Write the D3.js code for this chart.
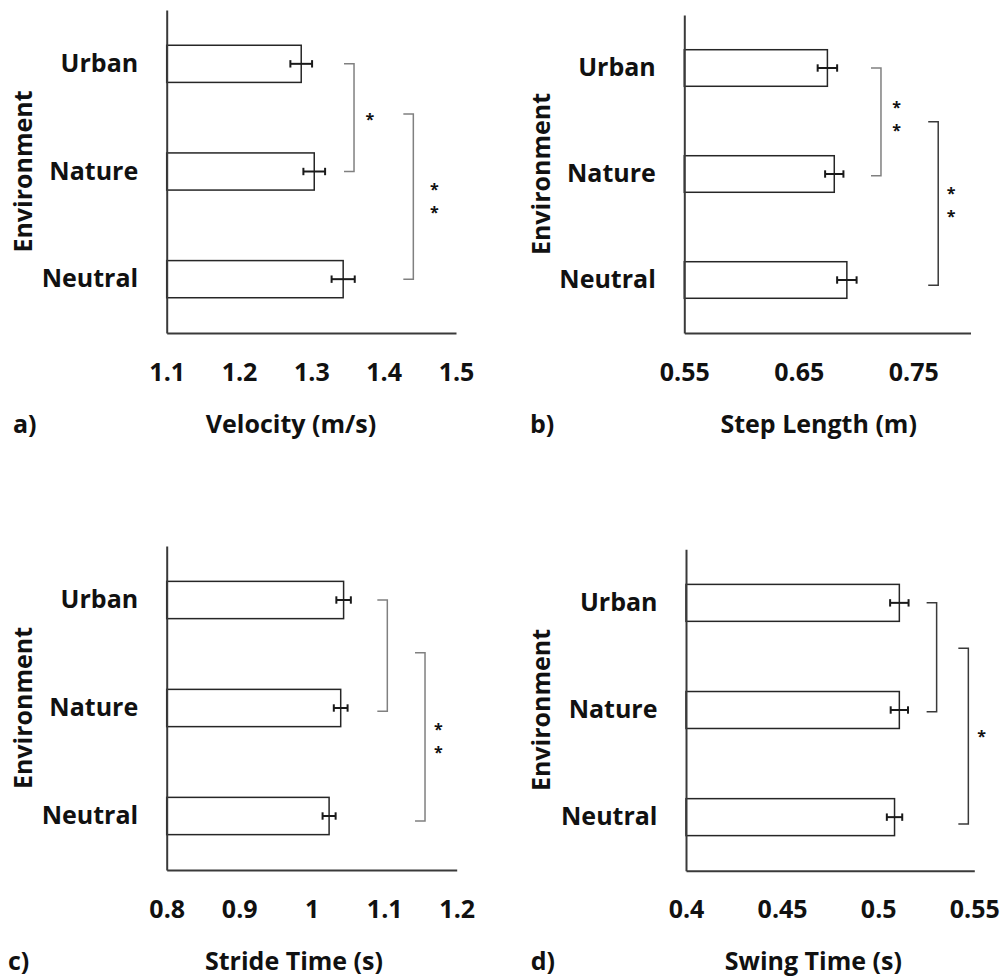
<!DOCTYPE html>
<html>
<head>
<meta charset="utf-8">
<script src="https://cdn.jsdelivr.net/npm/d3@7"></script>
<style>
  body { margin: 0; background: #fff; }
  text { font-family: "Open Sans", sans-serif; font-weight: bold; fill: #111; }
</style>
</head>
<body>
<div id="chart"></div>
<script>
// categories shared by all four panels
const categories = ["Urban", "Nature", "Neutral"];

// a) velocity
const velocityMean = [1.286, 1.304, 1.344];
const velocityErr = [0.015, 0.015, 0.016];
const velocityTicks = [1.1, 1.2, 1.3, 1.4, 1.5];

// b) step length
const stepMean = [0.675, 0.681, 0.692];
const stepErr = [0.0085, 0.008, 0.0085];
const stepTicks = [0.55, 0.65, 0.75];

// c) stride time
const strideMean = [1.044, 1.040, 1.024];
const strideErr = [0.010, 0.0095, 0.009];
const strideTicks = [0.8, 0.9, 1, 1.1, 1.2];

// d) swing time
const swingMean = [0.511, 0.511, 0.5085];
const swingErr = [0.0048, 0.0045, 0.004];
const swingTicks = [0.4, 0.45, 0.5, 0.55];

// significance brackets: x in axis units, y0/y1/starY as category index
const velocitySig = [
    {x: 1.359, y0: 0, y1: 1, starX: 1.381, starY: 0.485, stars: 1, tone: "gray"},
    {x: 1.441, y0: 0.466, y1: 2, starX: 1.470, starY: 1.24, stars: 2, tone: "gray"}
];
const stepSig = [
    {x: 0.7218, y0: 0, y1: 1.016, starX: 0.7355, starY: 0.448, stars: 2, tone: "gray"},
    {x: 0.7718, y0: 0.507, y1: 2.05, starX: 0.7831, starY: 1.264, stars: 2, tone: "dark"}
];
const strideSig = [
    {x: 1.1043, y0: 0, y1: 1.03, stars: 0, tone: "gray"},
    {x: 1.1563, y0: 0.488, y1: 2.046, starX: 1.1746, starY: 1.278, stars: 2, tone: "gray"}
];
const swingSig = [
    {x: 0.5304, y0: 0, y1: 1.016, stars: 0, tone: "dark"},
    {x: 0.5469, y0: 0.424, y1: 2.064, starX: 0.5538, starY: 1.217, stars: 1, tone: "dark"}
];

const panels = [
    {letter: "a)", title: "Velocity (m/s)", mean: velocityMean, err: velocityErr, ticks: velocityTicks,
     domain: [1.1, 1.5], sig: velocitySig,
     left: 166.7, right: 456, top: 10, bottom: 333, letterX: 13, envX: 23, titleX: 291},
    {letter: "b)", title: "Step Length (m)", mean: stepMean, err: stepErr, ticks: stepTicks,
     domain: [0.55, 0.8], sig: stepSig,
     left: 684.3, right: 970.5, top: 15, bottom: 333, letterX: 530, envX: 541.7, titleX: 818.7},
    {letter: "c)", title: "Stride Time (s)", mean: strideMean, err: strideErr, ticks: strideTicks,
     domain: [0.8, 1.2], sig: strideSig,
     left: 166.7, right: 456.7, top: 546, bottom: 870, letterX: 8, envX: 23, titleX: 294},
    {letter: "d)", title: "Swing Time (s)", mean: swingMean, err: swingErr, ticks: swingTicks,
     domain: [0.4, 0.55], sig: swingSig,
     left: 686, right: 974.3, top: 549.3, bottom: 870.7, letterX: 530.7, envX: 541.7, titleX: 813.3}
];

const width = 1005, height = 979;
const toneColor = {gray: "#808080", dark: "#3a3a3a"};

const svg = d3.select("#chart")
    .append("svg")
    .attr("width", width)
    .attr("height", height);

function drawPanel(p) {
    const g = svg.append("g");

    const x = d3.scaleLinear()
        .domain(p.domain)
        .range([p.left, p.right]);

    const y = d3.scaleBand()
        .domain(categories)
        .range([p.top, p.bottom])
        .paddingInner(0.655)
        .paddingOuter(0.3275);

    // centre of category i (fractional allowed)
    const yIdx = i => y(categories[0]) + y.bandwidth() / 2 + i * y.step();

    // bars
    g.selectAll(".bar")
        .data(p.mean)
        .join("rect")
        .attr("class", "bar")
        .attr("x", x(p.domain[0]))
        .attr("y", (d, i) => y(categories[i]))
        .attr("width", d => x(d) - x(p.domain[0]))
        .attr("height", y.bandwidth())
        .attr("fill", "#fff")
        .attr("stroke", "#262626")
        .attr("stroke-width", 1.5);

    // error bars
    const eb = g.selectAll(".err")
        .data(p.mean)
        .join("g")
        .attr("class", "err")
        .attr("stroke", "#1a1a1a")
        .attr("stroke-width", 2);
    eb.append("line")
        .attr("x1", (d, i) => x(d - p.err[i]))
        .attr("x2", (d, i) => x(d + p.err[i]))
        .attr("y1", (d, i) => yIdx(i))
        .attr("y2", (d, i) => yIdx(i));
    [-1, 1].forEach(s => {
        eb.append("line")
            .attr("x1", (d, i) => x(d + s * p.err[i]))
            .attr("x2", (d, i) => x(d + s * p.err[i]))
            .attr("y1", (d, i) => yIdx(i) - 3.7)
            .attr("y2", (d, i) => yIdx(i) + 3.7);
    });

    // x axis
    const xAxis = g.append("g")
        .attr("transform", `translate(0, ${p.bottom})`)
        .call(d3.axisBottom(x)
            .tickValues(p.ticks)
            .tickFormat(d => String(d))
            .tickSize(0)
            .tickPadding(30))
        .attr("font-size", 25);
    xAxis.select(".domain").attr("stroke", "#3a3a3a").attr("stroke-width", 2);

    // y axis
    const yAxis = g.append("g")
        .attr("transform", `translate(${p.left}, 0)`)
        .call(d3.axisLeft(y)
            .tickSize(0)
            .tickPadding(28.5))
        .attr("font-size", 25);
    yAxis.select(".domain").attr("stroke", "#3a3a3a").attr("stroke-width", 2);

    // significance brackets
    p.sig.forEach(b => {
        const bx = x(b.x), arm = 10;
        g.append("path")
            .attr("d", `M${bx - arm},${yIdx(b.y0)}H${bx}V${yIdx(b.y1)}H${bx - arm}`)
            .attr("fill", "none")
            .attr("stroke", toneColor[b.tone])
            .attr("stroke-width", 1.5);
        for (let k = 0; k < b.stars; k++) {
            const off = b.stars === 1 ? 0 : (k === 0 ? -11.5 : 11.5);
            g.append("text")
                .attr("x", x(b.starX))
                .attr("y", yIdx(b.starY) + off)
                .attr("dy", "0.56em")
                .attr("text-anchor", "middle")
                .attr("font-size", 16)
                .text("*");
        }
    });

    // axis titles and panel letter
    g.append("text")
        .attr("x", p.titleX)
        .attr("y", p.bottom + 99.5)
        .attr("text-anchor", "middle")
        .attr("font-size", 25)
        .text(p.title);

    g.append("text")
        .attr("x", p.letterX)
        .attr("y", p.bottom + 99.5)
        .attr("font-size", 25)
        .text(p.letter);

    g.append("text")
        .attr("transform", `translate(${p.envX}, ${(p.top + p.bottom) / 2}) rotate(-90)`)
        .attr("dy", "0.35em")
        .attr("text-anchor", "middle")
        .attr("font-size", 25)
        .text("Environment");
}

panels.forEach(drawPanel);
</script>
</body>
</html>
